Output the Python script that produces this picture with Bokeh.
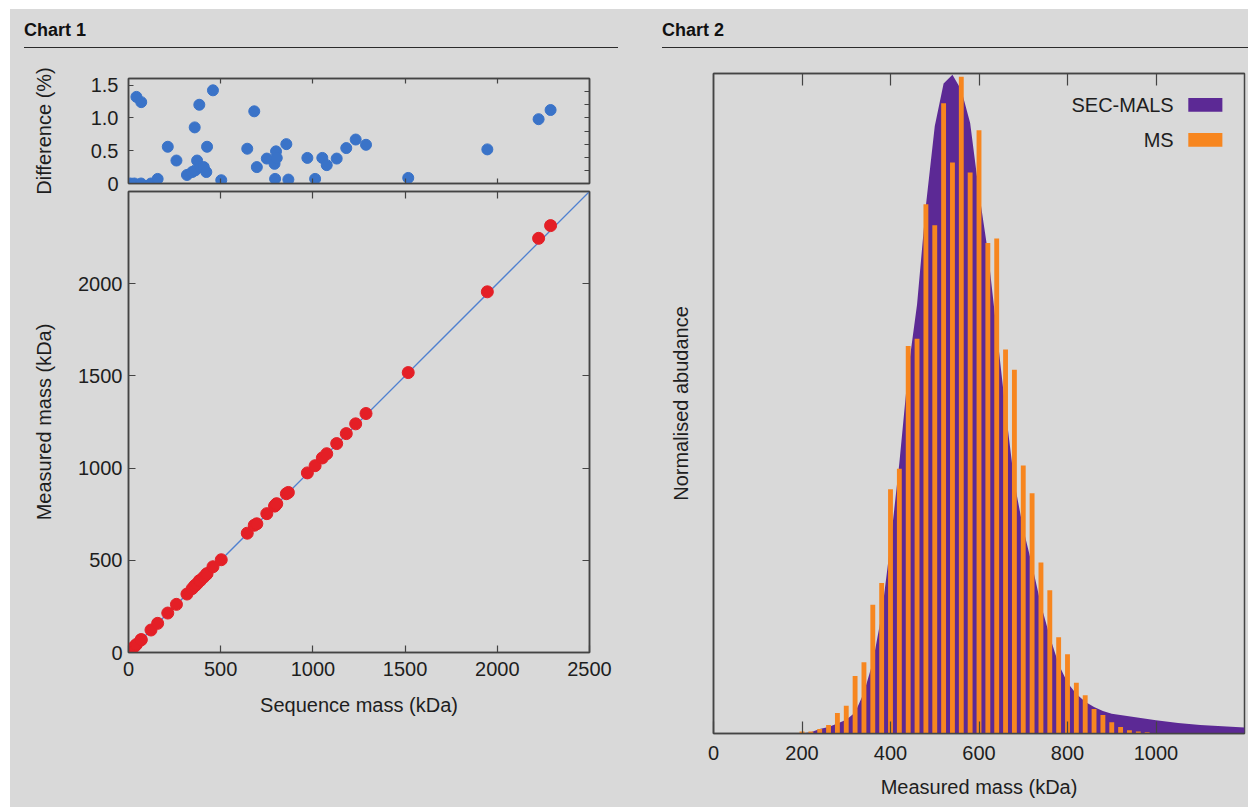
from bokeh.plotting import figure
from bokeh.models import (Range1d, LinearAxis, FixedTicker, Div, Label, BoxAnnotation,
                          CustomLabelingPolicy)
from bokeh.layouts import column, row
from bokeh.embed import file_html
from bokeh.resources import INLINE

# ---------------- data ----------------
# Chart 1: sequence mass (kDa), difference (%), measured mass (kDa)
seq_mass = [10, 32, 43, 68, 69, 122, 158, 213, 260, 317, 345, 359, 362, 372, 384,
            390, 408, 422, 426, 458, 503, 644, 682, 696, 750, 792, 795, 800, 804,
            856, 867, 970, 1012, 1051, 1075, 1129, 1181, 1232, 1288, 1517, 1946,
            2224, 2289]
diff_pct = [0, 0, 1.32, 0, 1.24, 0, 0.07, 0.56, 0.35, 0.13, 0.175, 0.855, 0.20,
            0.35, 1.20, 0.25, 0.25, 0.175, 0.56, 1.42, 0.05, 0.53, 1.10, 0.25,
            0.38, 0.30, 0.07, 0.49, 0.39, 0.60, 0.06, 0.39, 0.07, 0.39, 0.28,
            0.38, 0.54, 0.67, 0.59, 0.085, 0.52, 0.98, 1.12]
measured_mass = [10, 32, 44, 68, 70, 122, 158, 214, 261, 317, 346, 362, 363, 373,
                 389, 391, 409, 423, 428, 465, 503, 647, 690, 698, 753, 794, 796,
                 804, 807, 861, 868, 974, 1013, 1055, 1078, 1133, 1187, 1240, 1296,
                 1518, 1956, 2246, 2315]
identity_line = [0, 2500]

mass_ticks = [0, 500, 1000, 1500, 2000, 2500]
inner_mass_ticks = [500, 1000, 1500, 2000]
measured_ticks = [0, 500, 1000, 1500, 2000]
diff_ticks = [0, 0.5, 1.0, 1.5]
diff_tick_labels = ["0", "0.5", "1.0", "1.5"]
diff_minor_ticks = [0.2, 0.4, 0.6, 0.8, 1.0, 1.2, 1.4]

# Chart 2: SEC-MALS distribution (continuous) and MS histogram
mals_mass = [200, 220, 240, 260, 280, 300, 320, 340, 360, 380, 400, 420, 440, 460,
             480, 500, 520, 540, 560, 580, 600, 620, 640, 660, 680, 700, 720, 740,
             760, 780, 800, 820, 840, 860, 880, 900, 950, 1000, 1050, 1100, 1150,
             1200]
mals_abund = [0.0, 0.002, 0.007, 0.010, 0.015, 0.021, 0.032, 0.062, 0.108, 0.180,
              0.288, 0.41, 0.55, 0.65, 0.80, 0.92, 0.985, 0.998, 0.975, 0.925,
              0.82, 0.73, 0.61, 0.49, 0.38, 0.31, 0.255, 0.195, 0.147, 0.105,
              0.077, 0.060, 0.048, 0.040, 0.034, 0.030, 0.025, 0.020, 0.016,
              0.013, 0.011, 0.009]
ms_mass = [200, 220, 240, 260, 280, 300, 320, 340, 360, 380, 400, 420, 440, 460,
           480, 500, 520, 540, 560, 580, 600, 620, 640, 660, 680, 700, 720, 740,
           760, 780, 800, 820, 840, 860, 880, 900, 920, 940, 960, 980]
ms_abund = [0.003, 0.003, 0.007, 0.013, 0.031, 0.042, 0.087, 0.108, 0.195, 0.228,
            0.370, 0.401, 0.587, 0.598, 0.802, 0.770, 0.955, 0.865, 0.995, 0.850,
            0.914, 0.743, 0.750, 0.582, 0.551, 0.406, 0.364, 0.259, 0.217, 0.146,
            0.120, 0.077, 0.058, 0.037, 0.028, 0.017, 0.010, 0.005, 0.003, 0.002]
hist_ticks = [0, 200, 400, 600, 800, 1000]
hist_inner_ticks = [200, 400, 600, 800, 1000]

# ---------------- style ----------------
BG = "#d9d9d9"
FONT = "Liberation Sans"
TXT = "#1e1e1e"
FRAME = "#444444"
RED = "#e41f26"
BLUE = "#3a73c8"
LINE = "#4f80d0"
PURPLE = "#5c2995"
ORANGE = "#f7861f"

HIDE_ALL = "for (const i of indices) { indices.unset(i) }\nreturn indices"


def add_axis(p, place, ticks, tick_len, labels=True, overrides=None,
             label=None, label_standoff=10, standoff=6):
    ax = LinearAxis(ticker=FixedTicker(ticks=ticks, minor_ticks=[]))
    ax.major_tick_in = tick_len
    ax.major_tick_out = 0
    ax.minor_tick_in = 0
    ax.minor_tick_out = 0
    ax.axis_line_color = FRAME
    ax.axis_line_width = 1.5
    ax.major_tick_line_color = FRAME
    ax.major_tick_line_width = 1.2
    ax.major_label_text_font = FONT
    ax.major_label_text_color = TXT
    if labels:
        ax.major_label_text_font_size = "20px"
        ax.major_label_standoff = standoff
    else:
        # tick marks only: no label is drawn on this side of the frame
        ax.major_label_text_font_size = "1px"
        ax.major_label_standoff = 0
        ax.major_label_policy = CustomLabelingPolicy(code=HIDE_ALL)
    if overrides:
        ax.major_label_overrides = overrides
    if label:
        ax.axis_label = label
        ax.axis_label_text_font = FONT
        ax.axis_label_text_font_size = "20px"
        ax.axis_label_text_font_style = "normal"
        ax.axis_label_text_color = TXT
        ax.axis_label_standoff = label_standoff
    p.add_layout(ax, place)
    return ax


def base_fig(border=BG, **kw):
    p = figure(output_backend="svg", toolbar_location=None,
               x_axis_location=None, y_axis_location=None,
               background_fill_color=BG, border_fill_color=border,
               outline_line_color=FRAME, outline_line_width=1.5, **kw)
    p.xgrid.visible = False
    p.ygrid.visible = False
    return p


def title_div(text, width, line_width):
    html = ("<div style=\"margin-left:14px;width:%dpx;height:39px;box-sizing:border-box;"
            "border-bottom:1.5px solid #2b2b2b;padding-top:12px;"
            "font-family:'Liberation Sans',Arial,sans-serif;font-weight:bold;"
            "font-size:18px;line-height:18px;color:#111\">%s</div>") % (line_width, text)
    return Div(text=html, width=width, height=40, margin=0,
               styles={"background-color": BG})


# ---------------- Chart 1: difference panel ----------------
pa = base_fig(width=638, height=151,
              x_range=Range1d(0, 2500), y_range=Range1d(0, 1.6),
              min_border_left=118, min_border_right=59,
              min_border_top=29, min_border_bottom=17)
pa.margin = 0
add_axis(pa, "left", diff_ticks, 5, labels=True,
         overrides={t: s for t, s in zip(diff_ticks, diff_tick_labels)},
         label="Difference (%)", label_standoff=33, standoff=10)
add_axis(pa, "right", diff_minor_ticks, 5, labels=False)
add_axis(pa, "above", inner_mass_ticks, 5, labels=False)
add_axis(pa, "below", inner_mass_ticks, 5, labels=False)
pa.scatter(seq_mass, diff_pct, size=11, color=BLUE, line_color=BLUE)

# ---------------- Chart 1: measured vs sequence ----------------
# transparent border so that the panel above can overhang into it
pb = base_fig(border=None, width=638, height=620,
              x_range=Range1d(0, 2500), y_range=Range1d(0, 2500),
              min_border_left=118, min_border_right=59,
              min_border_top=3, min_border_bottom=155)
pb.margin = (-13, 0, 0, 0)
add_axis(pb, "left", measured_ticks, 7, labels=True,
         label="Measured mass (kDa)", label_standoff=20, standoff=6)
add_axis(pb, "below", mass_ticks, 7, labels=True,
         label="Sequence mass (kDa)", label_standoff=15, standoff=9)
add_axis(pb, "above", inner_mass_ticks, 7, labels=False)
add_axis(pb, "right", inner_mass_ticks, 7, labels=False)
pb.line(identity_line, identity_line, line_color=LINE, line_width=1.3)
pb.scatter(seq_mass, measured_mass, size=12, color=RED, line_color=RED)

# ---------------- Chart 2: distributions ----------------
pc = base_fig(width=600, height=758,
              x_range=Range1d(0, 1200), y_range=Range1d(0, 1.0),
              min_border_left=65, min_border_right=4,
              min_border_top=24, min_border_bottom=74)
pc.margin = 0
add_axis(pc, "below", hist_ticks, 12, labels=True,
         label="Measured mass (kDa)", label_standoff=13, standoff=12)
add_axis(pc, "above", hist_inner_ticks, 12, labels=False)
add_axis(pc, "left", [], 0, labels=False,
         label="Normalised abudance", label_standoff=22)
pc.varea(x=mals_mass, y1=0, y2=mals_abund, fill_color=PURPLE)
pc.vbar(x=ms_mass, top=ms_abund, bottom=0, width=11,
        fill_color=ORANGE, line_color=None)

# legend (text left of swatch, as in the original)
for name, col, ylo, yhi in [("SEC-MALS", PURPLE, 0.942, 0.963),
                            ("MS", ORANGE, 0.889, 0.910)]:
    pc.add_layout(BoxAnnotation(left=1073, right=1150, bottom=ylo, top=yhi,
                                fill_color=col, fill_alpha=1.0, line_color=None))
    pc.add_layout(Label(x=1040, y=(ylo + yhi) / 2, text=name,
                        text_align="right", text_baseline="middle",
                        text_font=FONT, text_font_size="20px", text_color=TXT))

bgstyle = {"background-color": BG}
col1 = column(title_div("Chart 1", 638, 594), pa, pb, spacing=0, margin=0,
              styles=bgstyle)
col2 = column(title_div("Chart 2", 600, 586), pc, spacing=0, margin=0,
              styles=bgstyle)
root = row(col1, col2, spacing=0, margin=(9, 0, 0, 10), styles=bgstyle)

open("out.html", "w").write(file_html(root, INLINE))
